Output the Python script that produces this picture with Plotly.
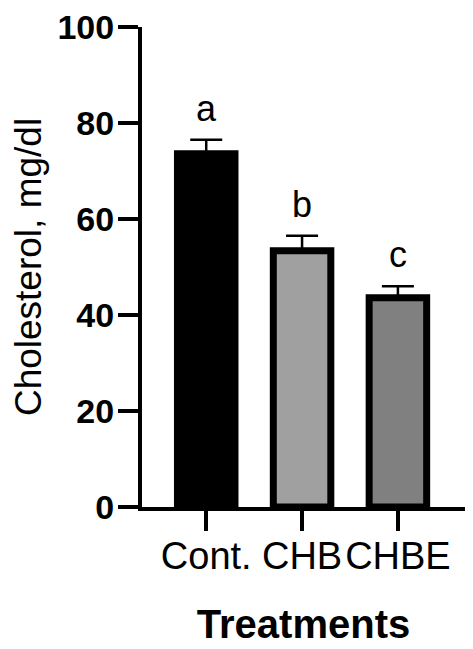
import plotly.graph_objects as go

# data
treatments = ["Cont.", "CHB", "CHBE"]
cholesterol = [73.6, 53.4, 43.6]
sem = [2.9, 3.1, 2.4]
letters = ["a", "b", "c"]
fill_colors = ["#000000", "#a0a0a0", "#808080"]

FONT = "Liberation Sans, Arial, sans-serif"

fig = go.Figure()

fig.add_trace(
    go.Bar(
        x=list(range(len(treatments))),
        y=cholesterol,
        width=0.6,
        marker=dict(color=fill_colors, line=dict(color="black", width=7)),
        error_y=dict(
            type="data",
            symmetric=False,
            array=sem,
            arrayminus=[0] * len(sem),
            color="black",
            thickness=2.5,
            width=16,
        ),
        showlegend=False,
    )
)

# significance letters above the error bars
for i, (val, err, lab) in enumerate(zip(cholesterol, sem, letters)):
    fig.add_annotation(
        x=i, y=val + err, text=lab, showarrow=False,
        yanchor="bottom", yshift=9,
        font=dict(family=FONT, size=36, color="black"),
    )

# the page body adds 8px, so margins are set 8px smaller on left/top
fig.update_layout(
    width=473,
    height=649,
    margin=dict(l=134, r=16, t=19, b=150),
    paper_bgcolor="white",
    plot_bgcolor="white",
    xaxis=dict(
        range=[-0.67, 2.7],
        automargin=False,
        tickmode="array",
        tickvals=list(range(len(treatments))),
        ticktext=treatments,
        showline=True,
        linecolor="black",
        linewidth=4,
        ticks="outside",
        ticklen=20,
        tickwidth=4,
        tickcolor="black",
        ticklabelstandoff=-8,
        ticklabeloverflow="allow",
        showgrid=False,
        zeroline=False,
        tickfont=dict(family=FONT, size=38, color="black"),
        title=dict(
            text="<b>Treatments</b>",
            font=dict(family=FONT, size=40, color="black"),
            standoff=35,
        ),
    ),
    yaxis=dict(
        range=[0, 100],
        automargin=False,
        tickmode="array",
        tickvals=[0, 20, 40, 60, 80, 100],
        ticktext=["<b>%d</b>" % v for v in [0, 20, 40, 60, 80, 100]],
        showline=True,
        linecolor="black",
        linewidth=4,
        ticks="outside",
        ticklen=20,
        tickwidth=4,
        tickcolor="black",
        ticklabelstandoff=-3,
        ticklabeloverflow="allow",
        showgrid=False,
        zeroline=False,
        tickfont=dict(family=FONT, size=34, color="black"),
        title=dict(
            text="Cholesterol, mg/dl",
            font=dict(family=FONT, size=37, color="black"),
            standoff=19,
        ),
    ),
)

fig.write_html("out.html")
